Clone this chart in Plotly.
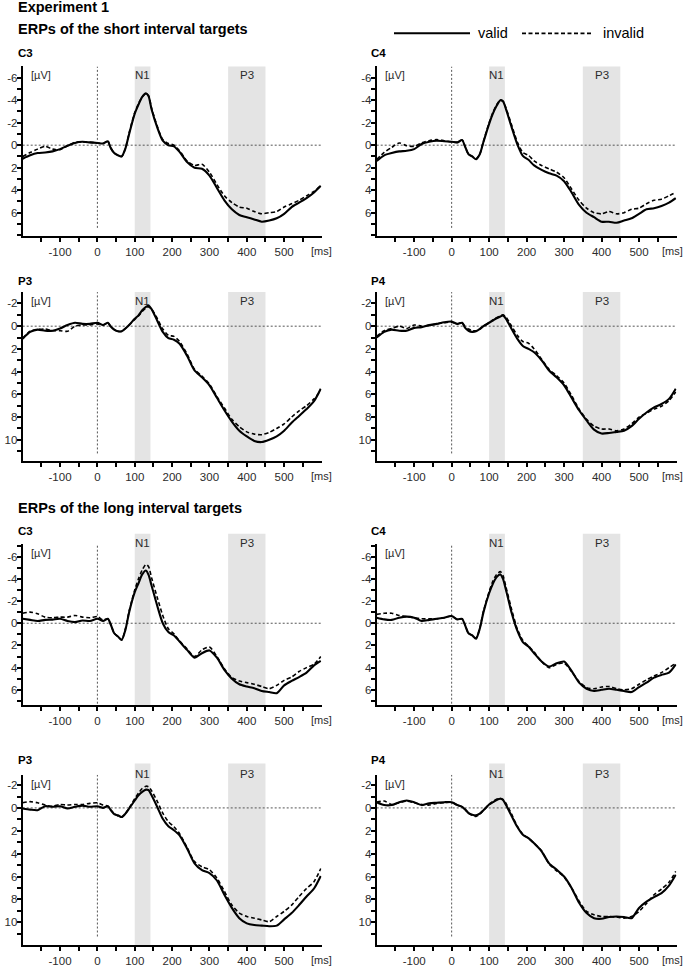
import plotly.graph_objects as go
from plotly.subplots import make_subplots

# ---- data: time axis (ms) and ERP amplitudes (µV) ----
T_MS = [-200, -180, -160, -140, -120, -100, -80, -60, -40, -20, 0, 15, 28, 35, 45, 55, 65, 75, 85,
        100, 110, 120, 130, 137, 145, 160, 175, 190, 205, 220, 240, 260, 280, 300, 320, 340, 360,
        380, 400, 420, 440, 460, 480, 500, 520, 540, 560, 580, 598]

C3_SHORT_VALID = [1.2, 0.9, 0.7, 0.65, 0.55, 0.35, 0.05, -0.2, -0.3, -0.25, -0.2, -0.15, -0.35, 0.2, 0.7, 0.9, 1.0, 0.3, -1.0,
                  -2.8, -3.6, -4.3, -4.6, -4.35, -3.2, -1.6, -0.4, 0.0, 0.1, 0.6, 1.5, 2.0, 2.1, 2.7, 3.8, 4.9, 5.7,
                  6.2, 6.4, 6.6, 6.8, 6.7, 6.5, 6.1, 5.5, 5.1, 4.7, 4.2, 3.6]
C3_SHORT_INVALID = [1.0, 0.65, 0.35, 0.1, 0.35, 0.4, 0.05, -0.25, -0.3, -0.25, -0.2, -0.15, -0.35, 0.2, 0.7, 0.9, 1.0, 0.3, -1.1,
                    -2.9, -3.7, -4.3, -4.6, -4.4, -3.3, -1.7, -0.5, -0.15, 0.0, 0.5, 1.4, 1.8, 1.7, 2.4, 3.5, 4.5, 5.1,
                    5.5, 5.6, 5.9, 6.1, 6.0, 5.9, 5.5, 5.2, 4.9, 4.5, 4.1, 3.6]
C4_SHORT_VALID = [1.4, 0.9, 0.7, 0.55, 0.5, 0.35, -0.1, -0.3, -0.4, -0.35, -0.3, -0.25, -0.45, 0.05, 0.8, 1.0, 1.25, 0.8, -0.3,
                  -1.9, -2.8, -3.5, -4.0, -3.9, -3.2, -1.6, -0.1, 0.95, 1.3, 1.8, 2.2, 2.5, 2.7, 3.2, 4.2, 5.3, 6.0,
                  6.4, 6.8, 6.8, 6.9, 6.7, 6.5, 6.1, 5.7, 5.6, 5.4, 5.1, 4.7]
C4_SHORT_INVALID = [1.25, 0.65, 0.2, -0.2, 0.05, 0.1, -0.2, -0.4, -0.5, -0.4, -0.3, -0.25, -0.45, 0.05, 0.8, 1.0, 1.2, 0.8, -0.35,
                    -2.0, -2.9, -3.6, -4.0, -3.9, -3.3, -1.8, -0.3, 0.65, 0.9, 1.4, 1.8, 2.1, 2.4, 2.9, 3.9, 4.9, 5.6,
                    6.0, 6.1, 5.9, 6.1, 6.0, 5.7, 5.6, 5.2, 4.9, 4.8, 4.5, 4.2]
P3_SHORT_VALID = [1.1, 0.5, 0.3, 0.4, 0.4, 0.2, -0.1, -0.3, -0.2, -0.2, -0.3, -0.1, -0.3, 0.0, 0.3, 0.45, 0.45, 0.2, -0.1,
                  -0.65, -0.95, -1.4, -1.7, -1.8, -1.5, -0.5, 0.5, 1.05, 1.2, 1.55, 2.6, 3.9, 4.5, 5.2, 6.3, 7.4, 8.4,
                  9.2, 9.7, 10.1, 10.2, 10.0, 9.7, 9.2, 8.5, 7.9, 7.3, 6.6, 5.5]
P3_SHORT_INVALID = [1.05, 0.45, 0.3, 0.25, 0.4, 0.4, 0.45, 0.0, -0.1, -0.1, -0.2, -0.1, -0.3, 0.0, 0.3, 0.45, 0.45, 0.2, -0.1,
                    -0.6, -0.9, -1.3, -1.6, -1.7, -1.5, -0.7, 0.25, 0.8, 0.9, 1.35, 2.45, 3.8, 4.4, 5.1, 6.2, 7.2, 8.2,
                    8.85, 9.3, 9.5, 9.55, 9.35, 9.0, 8.6, 8.0, 7.45, 7.0, 6.4, 5.7]
P4_SHORT_VALID = [1.0, 0.5, 0.3, 0.4, 0.4, 0.15, 0.1, -0.1, -0.2, -0.35, -0.4, -0.2, -0.3, 0.1, 0.4, 0.5, 0.45, 0.25, 0.0,
                  -0.3, -0.5, -0.7, -0.85, -0.95, -0.65, 0.25, 1.1, 1.75, 2.0, 2.3, 3.0, 3.9, 4.5, 5.2, 6.3, 7.4, 8.3,
                  9.1, 9.45, 9.4, 9.3, 9.2, 8.8, 8.15, 7.6, 7.15, 6.85, 6.4, 5.5]
P4_SHORT_INVALID = [0.9, 0.4, 0.2, 0.0, 0.2, -0.1, 0.0, -0.05, -0.2, -0.3, -0.35, -0.2, -0.3, 0.0, 0.25, 0.4, 0.4, 0.25, 0.0,
                    -0.3, -0.55, -0.75, -0.9, -1.0, -0.8, 0.0, 0.8, 1.35, 1.5, 2.0, 2.9, 3.8, 4.35, 5.0, 6.1, 7.3, 8.2,
                    8.8, 9.05, 9.05, 9.2, 9.05, 8.6, 8.0, 7.65, 7.3, 7.05, 6.55, 5.8]

C3_LONG_VALID = [-0.4, -0.3, -0.2, -0.3, -0.33, -0.4, -0.2, -0.1, -0.25, -0.2, -0.4, -0.2, -0.4, 0.05, 0.9, 1.2, 1.5, 0.6, -1.0,
                 -2.8, -3.6, -4.4, -4.75, -4.35, -3.4, -1.6, 0.0, 0.8, 1.1, 1.65, 2.4, 3.1, 2.7, 2.45, 3.1, 4.2, 5.0,
                 5.5, 5.7, 5.85, 6.1, 6.2, 6.3, 5.6, 5.2, 4.85, 4.45, 3.8, 3.4]
C3_LONG_INVALID = [-0.9, -1.0, -0.85, -0.55, -0.5, -0.55, -0.55, -0.7, -0.55, -0.5, -0.6, -0.3, -0.4, 0.05, 0.9, 1.2, 1.5, 0.5, -1.1,
                   -3.0, -4.0, -4.8, -5.3, -5.1, -4.1, -2.35, -0.7, 0.5, 0.95, 1.6, 2.3, 3.0, 2.4, 2.15, 3.0, 4.1, 4.9,
                   5.2, 5.35, 5.5, 5.7, 5.9, 5.6, 5.15, 4.85, 4.35, 4.0, 3.7, 3.0]
C4_LONG_VALID = [-0.5, -0.35, -0.3, -0.5, -0.6, -0.5, -0.2, -0.3, -0.4, -0.5, -0.65, -0.35, -0.4, 0.1, 0.9, 1.1, 1.4, 0.5, -1.0,
                 -2.7, -3.55, -4.15, -4.4, -4.0, -3.0, -0.95, 0.65, 1.7, 2.1, 2.7, 3.45, 3.9, 3.6, 3.45, 4.3, 5.35, 5.9,
                 6.1, 6.0, 5.9, 6.0, 6.1, 6.2, 5.75, 5.35, 4.9, 4.65, 4.45, 3.7]
C4_LONG_INVALID = [-0.8, -0.9, -0.9, -0.7, -0.6, -0.5, -0.4, -0.4, -0.4, -0.5, -0.65, -0.35, -0.4, 0.1, 0.9, 1.1, 1.35, 0.45, -1.1,
                   -2.85, -3.8, -4.4, -4.65, -4.3, -3.25, -1.25, 0.5, 1.55, 2.05, 2.6, 3.45, 4.0, 3.7, 3.6, 4.35, 5.25, 5.8,
                   5.9, 5.75, 5.7, 5.9, 6.0, 5.9, 5.5, 5.1, 4.75, 4.45, 4.0, 3.6]
P3_LONG_VALID = [0.05, 0.15, 0.2, -0.15, -0.1, -0.15, 0.05, -0.1, -0.2, -0.1, -0.15, 0.0, -0.15, 0.15, 0.55, 0.65, 0.8, 0.5, 0.05,
                 -0.65, -1.1, -1.4, -1.6, -1.55, -1.1, -0.1, 0.95, 1.6, 1.95, 2.4, 3.55, 4.85, 5.45, 5.7, 6.35, 7.6, 8.75,
                 9.65, 10.1, 10.25, 10.3, 10.35, 10.3, 9.75, 9.2, 8.5, 7.75, 7.05, 5.95]
P3_LONG_INVALID = [-0.45, -0.55, -0.45, -0.25, -0.15, -0.3, -0.25, -0.3, -0.3, -0.4, -0.45, -0.25, -0.15, 0.15, 0.5, 0.7, 0.8, 0.5, 0.0,
                   -0.8, -1.3, -1.7, -1.9, -1.85, -1.5, -0.6, 0.45, 1.2, 1.65, 2.25, 3.45, 4.7, 5.15, 5.4, 6.15, 7.3, 8.5,
                   9.2, 9.5, 9.65, 9.8, 9.95, 9.5, 9.05, 8.5, 7.75, 7.05, 6.45, 5.3]
P4_LONG_VALID = [-0.5, -0.25, -0.25, -0.5, -0.65, -0.5, -0.25, -0.4, -0.45, -0.5, -0.5, -0.25, -0.1, 0.1, 0.45, 0.6, 0.65, 0.5, 0.2,
                 -0.3, -0.5, -0.7, -0.8, -0.7, -0.25, 0.7, 1.65, 2.35, 2.65, 3.1, 3.8, 4.85, 5.4, 6.0, 7.0, 8.3, 9.2,
                 9.65, 9.7, 9.55, 9.5, 9.55, 9.65, 8.75, 8.2, 7.8, 7.45, 6.8, 5.85]
P4_LONG_INVALID = [-0.5, -0.6, -0.3, -0.45, -0.6, -0.45, -0.3, -0.25, -0.4, -0.45, -0.5, -0.25, -0.1, 0.1, 0.45, 0.65, 0.75, 0.55, 0.2,
                   -0.3, -0.55, -0.75, -0.85, -0.75, -0.4, 0.55, 1.6, 2.3, 2.65, 3.1, 3.75, 4.9, 5.5, 6.05, 7.0, 8.15, 9.05,
                   9.35, 9.5, 9.5, 9.55, 9.65, 9.5, 9.05, 8.35, 7.6, 7.1, 6.5, 5.55]

# 分析窗口 (ms)
N1_WINDOW = [100, 142]
P3_WINDOW = [350, 450]

X_TICKS = [-100, 0, 100, 200, 300, 400, 500]
X_MINOR = [-150, -50, 50, 150, 250, 350, 450, 550]
C_TICKS = [-6, -4, -2, 0, 2, 4, 6]
P_TICKS = [-2, 0, 2, 4, 6, 8, 10]

# ---- layout constants (pixels) ----
W, H = 685, 967
FONT = "Liberation Sans, Arial, sans-serif"
TXT = "#2b2b2b"
SHADE = "#e4e4e4"

COL_X = [(22.7, 321.5), (376.7, 676.5)]
ROW_Y = [(66.7, 237.3), (293.3, 463.3), (546.7, 708.3), (778.0, 949.0)]
ROW_RANGE = [[8.1, -7.0], [11.9, -3.0], [7.4, -7.1], [12.0, -2.9]]
ROW_VLINE_BOTTOM = [7.35, 11.2, 7.25, 11.25]
ROW_SHADE_TOP = [1.0, 1.0, 1.066, 1.066]
ROW_LABEL_SHIFT = [-9, -8.5, 1.5, 1]
ROW_TITLE_Y = [53.3, 281.7, 533.0, 763.5]

panels = [
    (0, 0, "C3", C3_SHORT_VALID, C3_SHORT_INVALID),
    (0, 1, "C4", C4_SHORT_VALID, C4_SHORT_INVALID),
    (1, 0, "P3", P3_SHORT_VALID, P3_SHORT_INVALID),
    (1, 1, "P4", P4_SHORT_VALID, P4_SHORT_INVALID),
    (2, 0, "C3", C3_LONG_VALID, C3_LONG_INVALID),
    (2, 1, "C4", C4_LONG_VALID, C4_LONG_INVALID),
    (3, 0, "P3", P3_LONG_VALID, P3_LONG_INVALID),
    (3, 1, "P4", P4_LONG_VALID, P4_LONG_INVALID),
]


def px_x(x):
    return x / W


def px_y(y):
    return 1 - y / H


fig = make_subplots(rows=4, cols=2)
annotations = []
shapes = []

for row, col, name, valid, invalid in panels:
    r, c = row + 1, col + 1
    idx = row * 2 + col + 1
    xref = "x" if idx == 1 else f"x{idx}"
    yref = "y" if idx == 1 else f"y{idx}"

    # invalid (dashed) first, valid (solid) on top
    fig.add_trace(go.Scatter(x=T_MS, y=invalid, mode="lines", name="invalid", showlegend=False,
                             line=dict(color="black", width=1.6, dash="4px,2.5px", shape="spline", smoothing=0.7)),
                  row=r, col=c)
    fig.add_trace(go.Scatter(x=T_MS, y=valid, mode="lines", name="valid", showlegend=False,
                             line=dict(color="black", width=2.1, shape="spline", smoothing=0.7)),
                  row=r, col=c)

    x0, x1 = COL_X[col]
    y0, y1 = ROW_Y[row]
    fig.update_xaxes(domain=[px_x(x0), px_x(x1)], range=[-200, 600],
                     showline=True, linecolor="black", linewidth=2, showgrid=False, zeroline=False,
                     ticks="outside", ticklen=4, tickwidth=2, tickcolor="black",
                     tickvals=X_TICKS, ticktext=[str(v) for v in X_TICKS],
                     minor=dict(tickmode="array", tickvals=X_MINOR, ticks="outside", ticklen=4,
                                tickwidth=2, tickcolor="black"),
                     tickfont=dict(family=FONT, size=11.5, color=TXT),
                     row=r, col=c)
    yticks = C_TICKS if name.startswith("C") else P_TICKS
    lo, hi = ROW_RANGE[row][1], ROW_RANGE[row][0]
    fig.update_yaxes(domain=[px_y(y1), px_y(y0)], range=ROW_RANGE[row],
                     showline=True, linecolor="black", linewidth=2, showgrid=False, zeroline=False,
                     ticks="outside", ticklen=4, tickwidth=2, tickcolor="black",
                     tickvals=yticks, ticktext=[str(v) for v in yticks], ticklabelstandoff=-3,
                     minor=dict(tickmode="array",
                                tickvals=[v for v in range(int(lo), int(hi) + 1) if v not in yticks and lo < v < hi],
                                ticks="outside", ticklen=4, tickwidth=2, tickcolor="black"),
                     tickfont=dict(family=FONT, size=11.5, color=TXT),
                     row=r, col=c)

    # shaded N1 / P3 windows
    for win in (N1_WINDOW, P3_WINDOW):
        shapes.append(dict(type="rect", xref=xref, yref=f"{yref} domain", x0=win[0], x1=win[1],
                           y0=0, y1=ROW_SHADE_TOP[row], fillcolor=SHADE, line_width=0, layer="below"))
    # dotted zero lines
    shapes.append(dict(type="line", xref=xref, yref=yref, x0=-200, x1=600, y0=0, y1=0,
                       line=dict(color="#555", width=1, dash="2px,2px"), layer="below"))
    shapes.append(dict(type="line", xref=xref, yref=yref, x0=0, x1=0,
                       y0=ROW_VLINE_BOTTOM[row], y1=ROW_RANGE[row][1],
                       line=dict(color="#555", width=1, dash="2px,2px"), layer="below"))

    # window labels
    for label, xpos in (("N1", sum(N1_WINDOW) / 2), ("P3", sum(P3_WINDOW) / 2)):
        annotations.append(dict(text=label, x=xpos, y=1, xref=xref, yref=f"{yref} domain",
                                yshift=ROW_LABEL_SHIFT[row], yanchor="middle", xanchor="center",
                                showarrow=False, font=dict(family=FONT, size=11.5, color=TXT)))
    # unit labels
    annotations.append(dict(text="[µV]", x=px_x(x0 + 6.5), y=px_y(y0 + 9), xref="paper", yref="paper",
                            xanchor="left", yanchor="middle", showarrow=False,
                            font=dict(family=FONT, size=11, color=TXT)))
    if col == 0:
        annotations.append(dict(text="[ms]", x=600, y=0, xref=xref, yref=f"{yref} domain", yshift=-14.5,
                                xanchor="center", yanchor="middle", showarrow=False,
                                font=dict(family=FONT, size=11, color=TXT)))
    else:
        # 右列贴着页面右边缘
        annotations.append(dict(text="[ms]", x=1.0, y=0, xref="paper", yref=f"{yref} domain", yshift=-14.5,
                                xanchor="right", yanchor="middle", showarrow=False,
                                font=dict(family=FONT, size=11, color=TXT)))
    # electrode name
    annotations.append(dict(text=f"<b>{name}</b>", x=px_x(16 if col == 0 else 369), y=px_y(ROW_TITLE_Y[row]),
                            xref="paper", yref="paper", xanchor="left", yanchor="middle", showarrow=False,
                            font=dict(family=FONT, size=11.5, color="black")))

# ---- titles ----
for text, ypx in (("Experiment 1", 7.5), ("ERPs of the short interval targets", 29.5),
                  ("ERPs of the long interval targets", 510.5)):
    annotations.append(dict(text=f"<b>{text}</b>", x=px_x(15.5), y=px_y(ypx), xref="paper", yref="paper",
                            xanchor="left", yanchor="middle", showarrow=False,
                            font=dict(family=FONT, size=14.5, color="black")))

# ---- legend (drawn manually) ----
shapes.append(dict(type="line", xref="paper", yref="paper", x0=px_x(394), x1=px_x(470),
                   y0=px_y(33.5), y1=px_y(33.5), line=dict(color="black", width=2)))
shapes.append(dict(type="line", xref="paper", yref="paper", x0=px_x(522), x1=px_x(593),
                   y0=px_y(33.5), y1=px_y(33.5), line=dict(color="black", width=1.6, dash="4px,2.5px")))
annotations.append(dict(text="valid", x=px_x(475.5), y=px_y(33), xref="paper", yref="paper",
                        xanchor="left", yanchor="middle", showarrow=False,
                        font=dict(family=FONT, size=14.5, color="black")))
annotations.append(dict(text="invalid", x=px_x(601), y=px_y(33), xref="paper", yref="paper",
                        xanchor="left", yanchor="middle", showarrow=False,
                        font=dict(family=FONT, size=14.5, color="black")))

fig.update_layout(
    width=W, height=H,
    margin=dict(l=0, r=0, t=0, b=0),
    paper_bgcolor="white", plot_bgcolor="white",
    showlegend=False,
    shapes=shapes,
    annotations=annotations,
    font=dict(family=FONT),
)

# 去掉页面默认的 body 边距，使图像与窗口左上角对齐
fig.write_html("out.html", config={"displayModeBar": False},
               post_script="document.body.style.margin='0';")
